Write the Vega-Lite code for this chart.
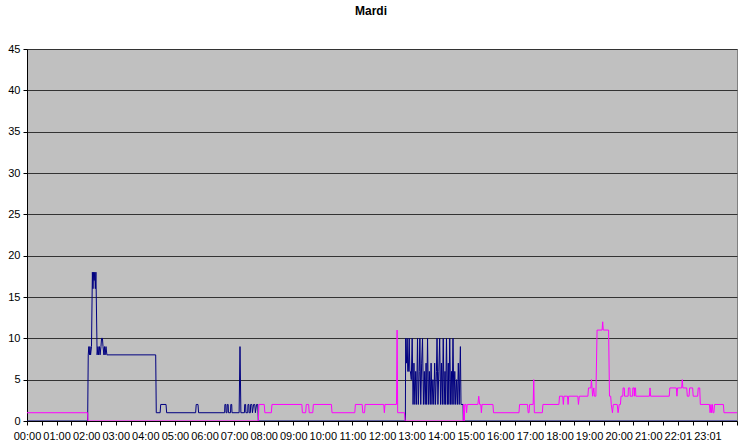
{
  "$schema": "https://vega.github.io/schema/vega-lite/v6.json",
  "autosize": {"type": "none"},
  "padding": {"left": 27, "top": 49, "right": 2, "bottom": 23},
  "width": 710,
  "height": 372,
  "background": "#FFFFFF",
  "title": {"text": "Mardi", "font": "Liberation Sans", "fontSize": 12, "fontWeight": "bold", "color": "#000000", "offset": 25, "dx": -11},
  "config": {
    "view": {"fill": "#C0C0C0", "stroke": "#808080", "strokeWidth": 1},
    "axis": {"labelFont": "Liberation Sans", "labelFontSize": 11, "labelColor": "#000000", "domainColor": "#000000", "tickColor": "#000000", "title": null}
  },
  "datasets": {
    "navy": [
      {"t": 0, "v": 0}, {"t": 2.05, "v": 0}, {"t": 2.07, "v": 8}, {"t": 2.09, "v": 9}, {"t": 2.11, "v": 8}, {"t": 2.13, "v": 9}, {"t": 2.15, "v": 8}, {"t": 2.18, "v": 9},
      {"t": 2.21, "v": 18}, {"t": 2.23, "v": 16}, {"t": 2.25, "v": 18}, {"t": 2.27, "v": 17}, {"t": 2.29, "v": 18}, {"t": 2.31, "v": 16}, {"t": 2.33, "v": 18},
      {"t": 2.37, "v": 8}, {"t": 2.40, "v": 9}, {"t": 2.42, "v": 8}, {"t": 2.45, "v": 9}, {"t": 2.47, "v": 8}, {"t": 2.50, "v": 9}, {"t": 2.52, "v": 10}, {"t": 2.55, "v": 10}, {"t": 2.57, "v": 9}, {"t": 2.60, "v": 8}, {"t": 2.62, "v": 9}, {"t": 2.64, "v": 8}, {"t": 2.67, "v": 9}, {"t": 2.70, "v": 8},
      {"t": 4.35, "v": 8}, {"t": 4.37, "v": 1}, {"t": 4.50, "v": 1}, {"t": 4.52, "v": 2}, {"t": 4.70, "v": 2}, {"t": 4.72, "v": 1},
      {"t": 5.70, "v": 1}, {"t": 5.72, "v": 2}, {"t": 5.78, "v": 2}, {"t": 5.80, "v": 1},
      {"t": 6.68, "v": 1}, {"t": 6.69, "v": 2}, {"t": 6.72, "v": 2}, {"t": 6.73, "v": 1}, {"t": 6.76, "v": 1}, {"t": 6.77, "v": 2}, {"t": 6.80, "v": 2}, {"t": 6.81, "v": 1}, {"t": 6.88, "v": 1}, {"t": 6.89, "v": 2}, {"t": 6.92, "v": 2}, {"t": 6.93, "v": 1},
      {"t": 7.17, "v": 1}, {"t": 7.20, "v": 9}, {"t": 7.23, "v": 1},
      {"t": 7.35, "v": 1}, {"t": 7.36, "v": 2}, {"t": 7.39, "v": 2}, {"t": 7.40, "v": 1}, {"t": 7.46, "v": 1}, {"t": 7.47, "v": 2}, {"t": 7.50, "v": 2}, {"t": 7.51, "v": 1}, {"t": 7.55, "v": 1}, {"t": 7.56, "v": 2}, {"t": 7.60, "v": 2}, {"t": 7.62, "v": 1}, {"t": 7.66, "v": 2}, {"t": 7.70, "v": 2}, {"t": 7.72, "v": 1}, {"t": 7.76, "v": 2}, {"t": 7.80, "v": 2}, {"t": 7.82, "v": 0},
      {"t": 12.79, "v": 0}, {"t": 12.80, "v": 10}, {"t": 12.83, "v": 7}, {"t": 12.85, "v": 10}, {"t": 12.87, "v": 6}, {"t": 12.89, "v": 6}, {"t": 12.92, "v": 10}, {"t": 12.94, "v": 6}, {"t": 12.96, "v": 6}, {"t": 12.99, "v": 5},
      {"t": 13.02, "v": 10}, {"t": 13.05, "v": 2}, {"t": 13.08, "v": 7}, {"t": 13.11, "v": 2}, {"t": 13.14, "v": 6}, {"t": 13.17, "v": 2}, {"t": 13.20, "v": 10}, {"t": 13.23, "v": 2}, {"t": 13.26, "v": 6}, {"t": 13.28, "v": 10},
      {"t": 13.31, "v": 2}, {"t": 13.34, "v": 7}, {"t": 13.37, "v": 10}, {"t": 13.40, "v": 2}, {"t": 13.43, "v": 6}, {"t": 13.46, "v": 2}, {"t": 13.49, "v": 7}, {"t": 13.51, "v": 2}, {"t": 13.54, "v": 10}, {"t": 13.57, "v": 2},
      {"t": 13.60, "v": 6}, {"t": 13.63, "v": 2}, {"t": 13.66, "v": 7}, {"t": 13.69, "v": 2}, {"t": 13.72, "v": 5}, {"t": 13.75, "v": 2}, {"t": 13.78, "v": 7}, {"t": 13.81, "v": 2}, {"t": 13.84, "v": 6}, {"t": 13.86, "v": 10},
      {"t": 13.89, "v": 2}, {"t": 13.92, "v": 6}, {"t": 13.95, "v": 10}, {"t": 13.98, "v": 2}, {"t": 14.01, "v": 7}, {"t": 14.04, "v": 2}, {"t": 14.07, "v": 10}, {"t": 14.10, "v": 2}, {"t": 14.13, "v": 6}, {"t": 14.15, "v": 2},
      {"t": 14.18, "v": 10}, {"t": 14.21, "v": 2}, {"t": 14.24, "v": 7}, {"t": 14.26, "v": 2}, {"t": 14.29, "v": 10}, {"t": 14.32, "v": 2}, {"t": 14.35, "v": 6}, {"t": 14.37, "v": 2}, {"t": 14.40, "v": 10}, {"t": 14.43, "v": 2},
      {"t": 14.46, "v": 6}, {"t": 14.49, "v": 2}, {"t": 14.52, "v": 5}, {"t": 14.55, "v": 2}, {"t": 14.58, "v": 7}, {"t": 14.61, "v": 2}, {"t": 14.65, "v": 9}, {"t": 14.67, "v": 2}, {"t": 14.74, "v": 2}, {"t": 14.75, "v": 0},
      {"t": 24, "v": 0}
    ],
    "magenta": [
      {"t": 0, "v": 1}, {"t": 2.05, "v": 1}, {"t": 2.06, "v": 0}, {"t": 7.82, "v": 0}, {"t": 7.84, "v": 2}, {"t": 8.02, "v": 2}, {"t": 8.04, "v": 1}, {"t": 8.26, "v": 1}, {"t": 8.28, "v": 2},
      {"t": 9.29, "v": 2}, {"t": 9.31, "v": 1}, {"t": 9.42, "v": 1}, {"t": 9.44, "v": 2}, {"t": 9.52, "v": 2}, {"t": 9.54, "v": 1}, {"t": 9.66, "v": 1}, {"t": 9.68, "v": 2},
      {"t": 10.29, "v": 2}, {"t": 10.31, "v": 1}, {"t": 11.08, "v": 1}, {"t": 11.10, "v": 2}, {"t": 11.33, "v": 2}, {"t": 11.35, "v": 1}, {"t": 11.41, "v": 1}, {"t": 11.43, "v": 2},
      {"t": 12.06, "v": 2}, {"t": 12.08, "v": 1}, {"t": 12.10, "v": 2}, {"t": 12.49, "v": 2}, {"t": 12.51, "v": 11}, {"t": 12.53, "v": 1}, {"t": 12.76, "v": 1}, {"t": 12.78, "v": 0},
      {"t": 14.75, "v": 0}, {"t": 14.76, "v": 2}, {"t": 14.78, "v": 0}, {"t": 14.80, "v": 2}, {"t": 14.84, "v": 2}, {"t": 14.86, "v": 1}, {"t": 14.88, "v": 2},
      {"t": 15.24, "v": 2}, {"t": 15.27, "v": 3}, {"t": 15.30, "v": 2}, {"t": 15.34, "v": 2}, {"t": 15.36, "v": 1}, {"t": 15.38, "v": 2}, {"t": 15.75, "v": 2}, {"t": 15.77, "v": 1},
      {"t": 16.63, "v": 1}, {"t": 16.65, "v": 2}, {"t": 16.92, "v": 2}, {"t": 16.94, "v": 1}, {"t": 16.97, "v": 1}, {"t": 16.99, "v": 2}, {"t": 17.11, "v": 2}, {"t": 17.13, "v": 5}, {"t": 17.15, "v": 1},
      {"t": 17.42, "v": 1}, {"t": 17.44, "v": 2}, {"t": 17.98, "v": 2}, {"t": 18.00, "v": 3}, {"t": 18.11, "v": 3}, {"t": 18.13, "v": 2}, {"t": 18.15, "v": 3}, {"t": 18.27, "v": 3}, {"t": 18.29, "v": 2}, {"t": 18.31, "v": 3},
      {"t": 18.62, "v": 3}, {"t": 18.64, "v": 2}, {"t": 18.67, "v": 3}, {"t": 18.96, "v": 3}, {"t": 18.98, "v": 4}, {"t": 19.06, "v": 4}, {"t": 19.08, "v": 5}, {"t": 19.10, "v": 4}, {"t": 19.12, "v": 3}, {"t": 19.16, "v": 4}, {"t": 19.18, "v": 3}, {"t": 19.23, "v": 3},
      {"t": 19.27, "v": 11}, {"t": 19.44, "v": 11}, {"t": 19.46, "v": 12}, {"t": 19.48, "v": 11}, {"t": 19.66, "v": 11}, {"t": 19.69, "v": 3}, {"t": 19.73, "v": 3}, {"t": 19.75, "v": 2}, {"t": 19.79, "v": 1}, {"t": 19.82, "v": 2},
      {"t": 19.95, "v": 2}, {"t": 19.98, "v": 1}, {"t": 20.02, "v": 2}, {"t": 20.06, "v": 2}, {"t": 20.08, "v": 3}, {"t": 20.14, "v": 3}, {"t": 20.15, "v": 4}, {"t": 20.19, "v": 4}, {"t": 20.20, "v": 3},
      {"t": 20.32, "v": 3}, {"t": 20.33, "v": 4}, {"t": 20.38, "v": 4}, {"t": 20.39, "v": 3}, {"t": 20.47, "v": 3}, {"t": 20.48, "v": 4}, {"t": 20.52, "v": 4}, {"t": 20.53, "v": 3}, {"t": 20.54, "v": 4}, {"t": 20.57, "v": 4}, {"t": 20.58, "v": 3},
      {"t": 21.04, "v": 3}, {"t": 21.06, "v": 4}, {"t": 21.08, "v": 3}, {"t": 21.71, "v": 3}, {"t": 21.73, "v": 4}, {"t": 21.95, "v": 4}, {"t": 21.97, "v": 3}, {"t": 21.99, "v": 4},
      {"t": 22.13, "v": 4}, {"t": 22.15, "v": 5}, {"t": 22.17, "v": 4}, {"t": 22.30, "v": 4}, {"t": 22.32, "v": 3}, {"t": 22.38, "v": 3}, {"t": 22.40, "v": 4}, {"t": 22.50, "v": 4}, {"t": 22.52, "v": 3}, {"t": 22.67, "v": 3}, {"t": 22.69, "v": 4}, {"t": 22.74, "v": 4}, {"t": 22.76, "v": 2},
      {"t": 23.07, "v": 2}, {"t": 23.09, "v": 1}, {"t": 23.12, "v": 2}, {"t": 23.14, "v": 1}, {"t": 23.17, "v": 2}, {"t": 23.19, "v": 1}, {"t": 23.22, "v": 1}, {"t": 23.24, "v": 2}, {"t": 23.54, "v": 2}, {"t": 23.56, "v": 1}, {"t": 24, "v": 1}
    ]
  },
  "encoding": {
    "x": {"field": "t", "type": "quantitative", "scale": {"domain": [0, 24], "nice": false, "zero": false},
      "axis": {"values": [0,0.5,1,1.5,2,2.5,3,3.5,4,4.5,5,5.5,6,6.5,7,7.5,8,8.5,9,9.5,10,10.5,11,11.5,12,12.5,13,13.5,14,14.5,15,15.5,16,16.5,17,17.5,18,18.5,19,19.5,20,20.5,21,21.5,22,22.5,23,23.5,24],
        "labelExpr": "(datum.value % 1 > 0 || datum.value >= 24) ? '' : (datum.value >= 22 ? format(datum.value, '02d') + ':01' : format(datum.value, '02d') + ':00')",
        "grid": false, "tickSize": 4, "labelPadding": 5, "labelOverlap": false, "labelFlush": false, "labelBound": false, "labelSeparation": 0, "zindex": 1, "domainColor": "#000000"}},
    "y": {"field": "v", "type": "quantitative", "scale": {"domain": [0, 45], "nice": false},
      "axis": {"values": [0,5,10,15,20,25,30,35,40,45], "grid": true, "gridColor": "#333333", "gridWidth": 1, "tickSize": 4, "labelPadding": 3}}
  },
  "layer": [
    {
      "data": {"name": "navy"},
      "mark": {"type": "line", "color": "#000080", "strokeWidth": 1, "clip": true}
    },
    {
      "data": {"name": "magenta"},
      "mark": {"type": "line", "color": "#FF00FF", "strokeWidth": 1, "clip": true}
    }
  ]
}
